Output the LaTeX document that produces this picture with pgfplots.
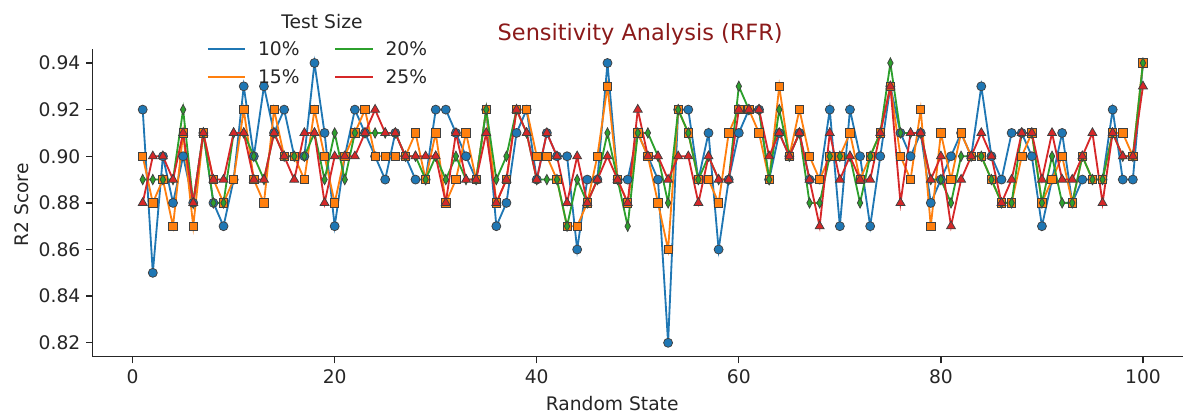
\documentclass[border=0pt]{standalone}
\usepackage{pgfplots}
\usepackage{pgfplotstable}
\pgfplotsset{compat=1.18}
\usepackage{fontspec}
\setmainfont{DejaVu Sans}
\definecolor{c10}{HTML}{1F77B4}
\definecolor{c15}{HTML}{FF7F0E}
\definecolor{c20}{HTML}{2CA02C}
\definecolor{c25}{HTML}{D62728}
\definecolor{titlered}{RGB}{139,26,26}
\definecolor{txt}{HTML}{262626}
\pgfplotstableread{
x a b c d
1 0.92 0.90 0.89 0.88
2 0.85 0.88 0.89 0.90
3 0.90 0.89 0.89 0.90
4 0.88 0.87 0.89 0.89
5 0.90 0.91 0.92 0.91
6 0.88 0.87 0.88 0.88
7 0.91 0.91 0.91 0.91
8 0.88 0.89 0.88 0.89
9 0.87 0.88 0.88 0.89
10 0.89 0.89 0.91 0.91
11 0.93 0.92 0.91 0.91
12 0.90 0.89 0.90 0.89
13 0.93 0.88 0.89 0.89
14 0.91 0.92 0.91 0.91
15 0.92 0.90 0.90 0.90
16 0.90 0.90 0.90 0.89
17 0.90 0.89 0.90 0.91
18 0.94 0.92 0.91 0.91
19 0.91 0.90 0.89 0.88
20 0.87 0.88 0.91 0.90
21 0.90 0.90 0.89 0.90
22 0.92 0.91 0.91 0.90
23 0.91 0.92 0.91 0.91
24 0.90 0.90 0.91 0.92
25 0.89 0.90 0.91 0.91
26 0.91 0.90 0.91 0.91
27 0.90 0.90 0.90 0.90
28 0.89 0.91 0.90 0.90
29 0.89 0.89 0.89 0.90
30 0.92 0.91 0.90 0.90
31 0.92 0.88 0.89 0.88
32 0.91 0.89 0.90 0.91
33 0.90 0.91 0.89 0.89
34 0.89 0.89 0.89 0.89
35 0.92 0.92 0.92 0.91
36 0.87 0.88 0.89 0.88
37 0.88 0.89 0.90 0.89
38 0.91 0.92 0.92 0.92
39 0.92 0.92 0.91 0.91
40 0.89 0.90 0.89 0.89
41 0.91 0.90 0.89 0.91
42 0.90 0.89 0.89 0.90
43 0.90 0.87 0.87 0.88
44 0.86 0.87 0.89 0.90
45 0.89 0.88 0.88 0.88
46 0.89 0.90 0.89 0.89
47 0.94 0.93 0.91 0.90
48 0.89 0.89 0.89 0.89
49 0.89 0.88 0.87 0.88
50 0.91 0.91 0.91 0.92
51 0.90 0.90 0.91 0.90
52 0.89 0.88 0.90 0.90
53 0.82 0.86 0.88 0.89
54 0.92 0.92 0.92 0.90
55 0.92 0.91 0.91 0.90
56 0.89 0.89 0.89 0.88
57 0.91 0.89 0.90 0.90
58 0.86 0.88 0.89 0.89
59 0.89 0.91 0.89 0.89
60 0.91 0.92 0.93 0.92
61 0.92 0.92 0.92 0.92
62 0.92 0.91 0.92 0.92
63 0.89 0.89 0.89 0.90
64 0.91 0.93 0.92 0.91
65 0.90 0.90 0.90 0.90
66 0.91 0.92 0.91 0.91
67 0.89 0.90 0.88 0.89
68 0.89 0.89 0.88 0.87
69 0.92 0.90 0.90 0.91
70 0.87 0.90 0.90 0.89
71 0.92 0.91 0.90 0.90
72 0.90 0.89 0.88 0.89
73 0.87 0.90 0.90 0.89
74 0.90 0.91 0.91 0.91
75 0.93 0.93 0.94 0.93
76 0.91 0.90 0.91 0.88
77 0.90 0.89 0.91 0.91
78 0.91 0.92 0.91 0.91
79 0.88 0.87 0.89 0.89
80 0.89 0.91 0.89 0.90
81 0.90 0.89 0.88 0.87
82 0.91 0.91 0.90 0.89
83 0.90 0.90 0.90 0.90
84 0.93 0.90 0.90 0.91
85 0.90 0.89 0.89 0.90
86 0.89 0.88 0.88 0.88
87 0.91 0.88 0.88 0.89
88 0.91 0.90 0.91 0.91
89 0.90 0.91 0.91 0.91
90 0.87 0.88 0.88 0.89
91 0.89 0.89 0.90 0.91
92 0.91 0.90 0.88 0.89
93 0.88 0.88 0.88 0.89
94 0.89 0.90 0.90 0.90
95 0.89 0.89 0.89 0.91
96 0.89 0.89 0.89 0.88
97 0.92 0.91 0.91 0.91
98 0.89 0.91 0.90 0.90
99 0.89 0.90 0.90 0.90
100 0.94 0.94 0.94 0.93
}\data
\begin{document}
\begin{tikzpicture}
\begin{axis}[
  scale only axis,
  width=653.8bp, height=184.6bp,
  xmin=-3.95, xmax=103.93,
  ymin=0.814, ymax=0.946,
  axis x line*=bottom, axis y line*=left,
  axis line style={-, line width=0.8bp, black!85},
  tick style={black!85, line width=0.8bp},
  tick align=outside,
  major tick length=3.9bp,
  xtick={0,20,40,60,80,100},
  ytick={0.82,0.84,0.86,0.88,0.90,0.92,0.94},
  yticklabel style={/pgf/number format/.cd, fixed, fixed zerofill, precision=2},
  /pgf/number format/assume math mode=true,
  ticklabel style={font=\fontsize{11.25}{13}\selectfont, text=txt},
  clip=false,
  legend columns=2,
  legend image code/.code={\draw[#1, mark=none] (0bp,0bp) -- (22.5bp,0bp);},
  legend style={draw=none, fill=none, at={(axis description cs:0.100,1.048)}, anchor=north west,
    font=\fontsize{11.25}{13}\selectfont, text=txt, row sep=3bp,
    /tikz/every odd column/.append style={column sep=5bp},
    /tikz/every even column/.append style={column sep=19bp}},
  every axis plot/.append style={line width=1.1bp},
]
\addplot[c10, mark=*, mark size=2.7bp, mark options={fill=c10, draw=black!75, line width=0.45bp}, forget plot] table[x=x, y=a] {\data};
\addplot[c15, mark=square*, mark size=2.5bp, mark options={fill=c15, draw=black!75, line width=0.45bp}, forget plot] table[x=x, y=b] {\data};
\addplot[c20, mark=diamond*, mark size=3.1bp, mark options={fill=c20, draw=black!75, line width=0.45bp, xscale=0.7}, forget plot] table[x=x, y=c] {\data};
\addplot[c25, mark=triangle*, mark size=3.1bp, mark options={fill=c25, draw=black!75, line width=0.45bp}, forget plot] table[x=x, y=d] {\data};
\addlegendimage{c10, line width=1.1bp}\addlegendentry{10\%}
\addlegendimage{c20, line width=1.1bp}\addlegendentry{20\%}
\addlegendimage{c15, line width=1.1bp}\addlegendentry{15\%}
\addlegendimage{c25, line width=1.1bp}\addlegendentry{25\%}
\node[anchor=center, text=txt, font=\fontsize{11.25}{13}\selectfont] at (axis description cs:0.2104,1.0887) {Test Size};
\node[anchor=base, text=titlered, font=\fontsize{13.5}{16}\selectfont] at (axis description cs:0.5023,1.029) {Sensitivity Analysis (RFR)};
\node[anchor=base, text=txt, font=\fontsize{11.25}{13}\selectfont] at (axis description cs:0.4766,-0.176) {Random State};
\node[anchor=center, rotate=90, text=txt, font=\fontsize{11.25}{13}\selectfont] at (axis description cs:-0.0649,0.493) {R2 Score};
\end{axis}
\pgfresetboundingbox
\path[use as bounding box] (-55.6bp,-35.6bp) rectangle (654bp,214bp);
\end{tikzpicture}
\end{document}
